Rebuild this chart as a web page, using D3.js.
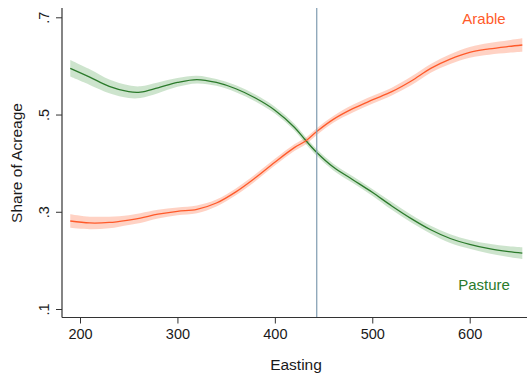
<!DOCTYPE html>
<html>
<head>
<meta charset="utf-8">
<script src="https://cdn.jsdelivr.net/npm/d3@7"></script>
<style>
  html, body { margin: 0; padding: 0; background: #fff; }
  svg { display: block; font-family: "Liberation Sans", Arial, sans-serif; }
</style>
</head>
<body>
<svg id="chart" width="527" height="379"></svg>
<script>
// Smoothed share of acreage by easting, with confidence bands
const easting = [190, 210, 230, 250, 262, 280, 300, 320, 340, 360, 380, 400, 420, 432, 443, 460, 480, 500, 520, 540, 560, 580, 600, 620, 640, 654];

const pasture = [0.595, 0.577, 0.558, 0.547, 0.546, 0.555, 0.566, 0.572, 0.566, 0.553, 0.534, 0.509, 0.474, 0.446, 0.422, 0.392, 0.366, 0.340, 0.312, 0.286, 0.263, 0.245, 0.233, 0.224, 0.218, 0.215];
const pastureCI = [0.017, 0.016, 0.014, 0.013, 0.012, 0.011, 0.009, 0.008, 0.007, 0.007, 0.007, 0.007, 0.007, 0.007, 0.007, 0.007, 0.007, 0.007, 0.008, 0.008, 0.008, 0.009, 0.009, 0.010, 0.011, 0.012];

const arable = [0.281, 0.277, 0.278, 0.283, 0.287, 0.295, 0.301, 0.305, 0.318, 0.341, 0.370, 0.402, 0.432, 0.446, 0.465, 0.490, 0.512, 0.530, 0.547, 0.569, 0.595, 0.614, 0.628, 0.635, 0.640, 0.643];
const arableCI = [0.014, 0.013, 0.012, 0.010, 0.010, 0.009, 0.008, 0.008, 0.007, 0.007, 0.007, 0.007, 0.007, 0.007, 0.007, 0.007, 0.008, 0.008, 0.008, 0.009, 0.009, 0.010, 0.011, 0.012, 0.013, 0.014];

const xTicks = [200, 300, 400, 500, 600];
const yTicks = [0.1, 0.3, 0.5, 0.7];
const cutoff = 443;

const svg = d3.select("#chart");

const x = d3.scaleLinear().domain([200, 600]).range([80, 469.7]);
const y = d3.scaleLinear().domain([0.1, 0.7]).range([309, 17.3]);

const plotLeft = 62, plotRight = 527, plotTop = 8, plotBottom = 317.5;

function series(vals, ci) {
  return easting.map((e, i) => ({ e, v: vals[i], lo: vals[i] - ci[i], hi: vals[i] + ci[i] }));
}
const pData = series(pasture, pastureCI);
const aData = series(arable, arableCI);

const curve = d3.curveCatmullRom.alpha(0.5);
const area = d3.area().x(d => x(d.e)).y0(d => y(d.lo)).y1(d => y(d.hi)).curve(curve);
const line = d3.line().x(d => x(d.e)).y(d => y(d.v)).curve(curve);

const green = "#2b7a2b", orange = "#ff5a2a";

svg.append("path").datum(pData).attr("d", area)
  .attr("fill", "#5aa55a").attr("fill-opacity", 0.3);
svg.append("path").datum(aData).attr("d", area)
  .attr("fill", "#ff6a3d").attr("fill-opacity", 0.3);
svg.append("path").datum(pData).attr("d", line)
  .attr("fill", "none").attr("stroke", green).attr("stroke-width", 1.3);
svg.append("path").datum(aData).attr("d", line)
  .attr("fill", "none").attr("stroke", orange).attr("stroke-width", 1.3);

// Cutoff line
svg.append("line")
  .attr("x1", x(cutoff)).attr("x2", x(cutoff))
  .attr("y1", plotTop).attr("y2", plotBottom)
  .attr("stroke", "#7f9bb0").attr("stroke-width", 1.2);

// Axes
const axisColor = "#333";
const xAxis = svg.append("g").attr("transform", `translate(0,${plotBottom})`)
  .call(d3.axisBottom(x).tickValues(xTicks).tickSize(6).tickPadding(5).tickFormat(d3.format("d")));
xAxis.select(".domain").remove();
xAxis.append("line").attr("x1", plotLeft).attr("x2", plotRight).attr("y1", 0).attr("y2", 0)
  .attr("stroke", axisColor).attr("stroke-width", 1.2);
xAxis.selectAll(".tick line").attr("stroke", axisColor);
xAxis.selectAll(".tick text").attr("font-size", 14.5).attr("fill", "#1a1a1a")
  .attr("font-family", "Liberation Sans, Arial, sans-serif");

const yAxis = svg.append("g").attr("transform", `translate(${plotLeft},0)`)
  .call(d3.axisLeft(y).tickValues(yTicks).tickSize(6).tickFormat(d => d3.format(".1f")(d).replace(/^0/, "")));
yAxis.select(".domain").remove();
yAxis.append("line").attr("x1", 0).attr("x2", 0).attr("y1", plotTop).attr("y2", plotBottom)
  .attr("stroke", axisColor).attr("stroke-width", 1.2);
yAxis.selectAll(".tick line").attr("stroke", axisColor);
yAxis.selectAll(".tick text")
  .attr("font-size", 14.5).attr("fill", "#1a1a1a")
  .attr("font-family", "Liberation Sans, Arial, sans-serif")
  .attr("x", null).attr("dy", null)
  .attr("text-anchor", "middle")
  .attr("transform", "translate(-13,0) rotate(-90)")
  .attr("y", 0);

// Axis titles
svg.append("text").attr("x", 296).attr("y", 370).attr("text-anchor", "middle")
  .attr("font-size", 15.5).attr("fill", "#1a1a1a").text("Easting");
svg.append("text").attr("transform", "translate(22,163) rotate(-90)").attr("text-anchor", "middle")
  .attr("font-size", 15.5).attr("fill", "#1a1a1a").text("Share of Acreage");

// Series labels
svg.append("text").attr("x", 484).attr("y", 23.5).attr("text-anchor", "middle")
  .attr("font-size", 15).attr("fill", orange).text("Arable");
svg.append("text").attr("x", 484).attr("y", 290).attr("text-anchor", "middle")
  .attr("font-size", 15).attr("fill", green).text("Pasture");
</script>
</body>
</html>
